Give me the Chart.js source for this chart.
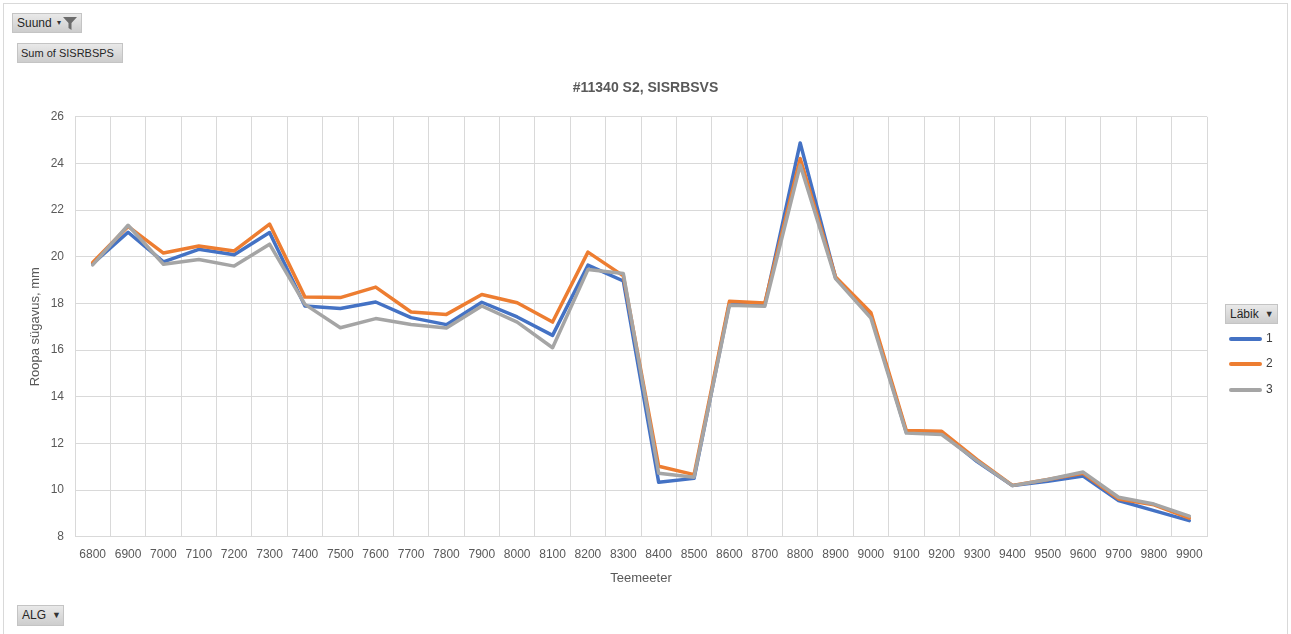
<!DOCTYPE html>
<html>
<head>
<meta charset="utf-8">
<script src="https://cdn.jsdelivr.net/npm/chart.js@4/dist/chart.umd.min.js"></script>
<style>
html,body{margin:0;padding:0;background:#fff;}
#wrap{position:relative;width:1291px;height:634px;overflow:hidden;font-family:"Liberation Sans",Arial,sans-serif;}
#frame{position:absolute;left:3px;top:3px;width:1285px;height:660px;border:1px solid #d9d9d9;box-sizing:border-box;}
#c{position:absolute;left:0;top:0;}
.btn{position:absolute;background:linear-gradient(#e9e9e9,#cdcdcd);border:1px solid #c4c4c4;box-sizing:border-box;font-size:12px;color:#262626;line-height:18px;padding-left:4px;white-space:nowrap;}
.arr{font-size:9px;color:#333;margin-left:6px;vertical-align:1px;}
#legend{position:absolute;left:1225px;top:304px;}
.item{position:absolute;left:4px;height:14px;font-size:12px;color:#404040;}
.item .ln{position:absolute;left:0;top:5px;width:33px;height:4px;border-radius:2px;}
.item .tx{position:absolute;left:37px;top:-1px;}
</style>
</head>
<body>
<div id="wrap">
  <div id="frame"></div>
  <canvas id="c" width="1291" height="634"></canvas>
  <div class="btn" style="left:12px;top:13px;width:70px;height:20px;">Suund<span style="position:absolute;left:44px;top:0px;font-size:8px;color:#333;">&#9662;</span><svg style="position:absolute;left:50px;top:3px;" width="14" height="13" viewBox="0 0 14 13"><path d="M0 0 H14 L8.5 6 V13 L5.5 11 V6 Z" fill="#6b6b6b"/></svg></div>
  <div class="btn" style="left:17px;top:43px;width:106px;height:20px;font-size:11px;padding-left:3px;">Sum of SISRBSPS</div>
  <div class="btn" style="left:17px;top:605px;width:47px;height:21px;">ALG<span class="arr">&#9660;</span></div>
  <div id="legend">
    <div class="btn" style="left:0;top:0;width:53px;height:20px;">Läbik<span class="arr">&#9660;</span></div>
  </div>
</div>
<script>
const categories = ['6800','6900','7000','7100','7200','7300','7400','7500','7600','7700','7800','7900','8000','8100','8200','8300','8400','8500','8600','8700','8800','8900','9000','9100','9200','9300','9400','9500','9600','9700','9800','9900'];
const seriesNames = ['1','2','3'];
const labik1 = [19.70,21.05,19.78,20.32,20.09,21.04,17.89,17.78,18.06,17.39,17.09,18.05,17.42,16.63,19.64,18.96,10.33,10.50,18.00,17.95,24.88,19.10,17.49,12.48,12.45,11.22,10.19,10.38,10.60,9.55,9.12,8.69];
const labik2 = [19.75,21.30,20.16,20.46,20.25,21.40,18.27,18.25,18.70,17.63,17.53,18.38,18.03,17.20,20.20,19.18,11.02,10.66,18.09,18.02,24.21,19.13,17.60,12.55,12.52,11.30,10.20,10.45,10.72,9.62,9.37,8.80];
const labik3 = [19.65,21.35,19.68,19.88,19.60,20.54,17.96,16.96,17.35,17.10,16.95,17.89,17.20,16.10,19.45,19.28,10.72,10.55,17.92,17.88,23.93,19.06,17.37,12.44,12.38,11.25,10.19,10.45,10.77,9.69,9.40,8.88];
const seriesColors = ['#4472C4','#ED7D31','#A5A5A5'];
const yMin = 8, yMax = 26, yStep = 2;
const chartTitle = '#11340 S2, SISRBSVS';
const xTitle = 'Teemeeter';
const yTitle = 'Roopa sügavus, mm';

const FONT = '"Liberation Sans", Arial, sans-serif';
const TXT = '#595959';
const GRID = '#d9d9d9';

const seriesData = [labik1, labik2, labik3];
const datasets = seriesData.map((d, i) => ({
  label: seriesNames[i],
  data: d,
  borderColor: seriesColors[i],
  backgroundColor: seriesColors[i],
  borderWidth: 3.5,
  pointRadius: 0,
  pointHoverRadius: 0,
  tension: 0,
  borderJoinStyle: 'round',
  borderCapStyle: 'round',
  fill: false,
  order: 2 - i
}));

const chart = new Chart(document.getElementById('c'), {
  type: 'line',
  data: { labels: categories, datasets: datasets },
  options: {
    responsive: false,
    animation: false,
    devicePixelRatio: 1,
    layout: { padding: { top: 0, left: 0, right: 0, bottom: 37.3 } },
    plugins: {
      legend: { display: false },
      tooltip: { enabled: false },
      title: {
        display: true,
        text: chartTitle,
        color: TXT,
        font: { family: FONT, size: 14, weight: 'bold' },
        padding: { top: 80, bottom: 20 }
      }
    },
    scales: {
      x: {
        type: 'category',
        offset: true,
        grid: { offset: true, color: GRID, lineWidth: 1, drawTicks: false },
        border: { display: true, color: GRID },
        ticks: { color: TXT, font: { family: FONT, size: 12 }, padding: 11, maxRotation: 0, autoSkip: false },
        title: { display: true, text: xTitle, color: TXT, font: { family: FONT, size: 13 }, padding: { top: 0, bottom: 10 } },
        afterFit: s => { s.height = 60; }
      },
      y: {
        type: 'linear',
        position: 'left',
        min: yMin, max: yMax,
        grid: { color: GRID, lineWidth: 1, drawTicks: false },
        border: { display: false },
        ticks: { stepSize: yStep, color: TXT, font: { family: FONT, size: 12 }, padding: 11 },
        title: { display: true, text: yTitle, color: TXT, font: { family: FONT, size: 13 }, padding: { top: 28, bottom: 0 } },
        afterFit: s => { s.width = 75; }
      },
      yr: {
        type: 'linear',
        position: 'right',
        display: true,
        grid: { display: false, drawTicks: false },
        border: { display: false },
        ticks: { display: false },
        afterFit: s => { s.width = 84; }
      }
    }
  }
});

// legend built from the chart's datasets
const leg = document.getElementById('legend');
const rowY = [28, 53, 79];
chart.data.datasets.forEach((ds, i) => {
  const it = document.createElement('div');
  it.className = 'item';
  it.style.top = rowY[i] + 'px';
  it.innerHTML = '<span class="ln" style="background:' + ds.borderColor + '"></span><span class="tx">' + ds.label + '</span>';
  leg.appendChild(it);
});
</script>
</body>
</html>
